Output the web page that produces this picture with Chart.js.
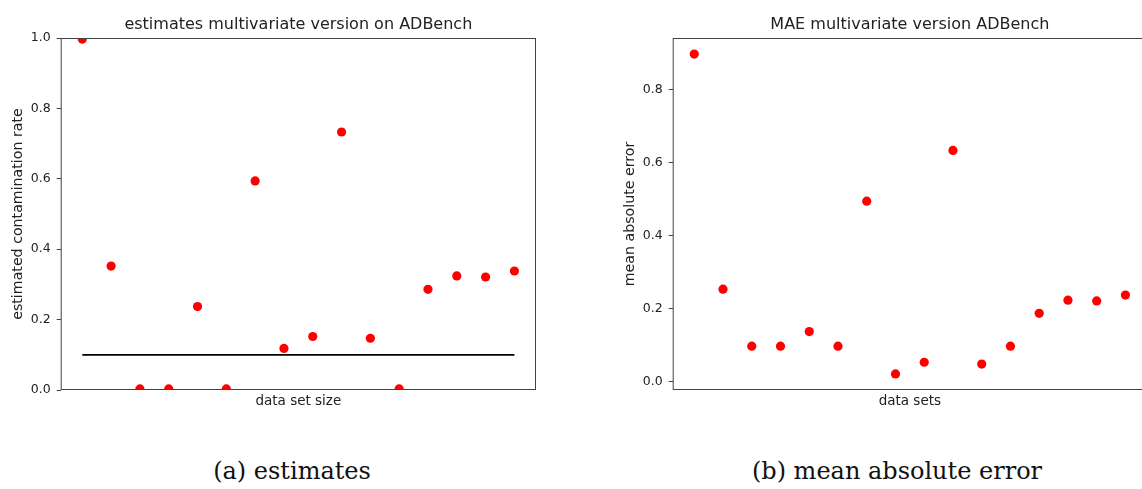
<!DOCTYPE html>
<html>
<head>
<meta charset="utf-8">
<script src="https://cdn.jsdelivr.net/npm/chart.js@4/dist/chart.umd.min.js"></script>
<style>
  html, body { margin:0; padding:0; background:#fff; width:1142px; height:489px; overflow:hidden; position:relative; }
  canvas { position:absolute; top:0; }
  .caption { position:absolute; top:457px; font-family:"DejaVu Serif", serif; font-size:24px; color:#111; transform:translateX(-50%); white-space:nowrap; }
</style>
</head>
<body>
<canvas id="est-chart" width="560" height="414" style="left:0;"></canvas>
<canvas id="mae-chart" width="535" height="414" style="left:612px;"></canvas>
<div class="caption" style="left:292px;">(a) estimates</div>
<div class="caption" style="left:897px;">(b) mean absolute error</div>

<script>
// data sets, in the order plotted (x = position index)
const dataSetIdx = [0, 1, 2, 3, 4, 5, 6, 7, 8, 9, 10, 11, 12, 13, 14, 15];
const estimates  = [0.997, 0.352, 0.003, 0.003, 0.237, 0.003, 0.594, 0.118, 0.152, 0.733, 0.147, 0.003, 0.286, 0.324, 0.321, 0.338];
const maeValues  = [0.897, 0.253, 0.097, 0.097, 0.137, 0.097, 0.494, 0.021, 0.053, 0.633, 0.048, 0.097, 0.187, 0.223, 0.221, 0.237];
const trueRate   = 0.1;
const estTicks   = [0.0, 0.2, 0.4, 0.6, 0.8, 1.0];
const maeTicks   = [0.0, 0.2, 0.4, 0.6, 0.8];

const FONT = '"DejaVu Sans", sans-serif';
const INK = '#222';

// matplotlib-like full frame + title centred on the axes
const framePlugin = {
  id: 'frame',
  afterDraw(chart, args, opts) {
    const {ctx, chartArea:a} = chart;
    ctx.save();
    ctx.strokeStyle = '#444';
    ctx.lineWidth = 1;
    ctx.strokeRect(a.left + 0.5, a.top + 0.5, a.right - a.left - 1, a.bottom - a.top - 1);
    ctx.fillStyle = INK;
    ctx.font = '16px ' + FONT;
    ctx.textAlign = 'center';
    ctx.textBaseline = 'middle';
    ctx.fillText(opts.text, (a.left + a.right) / 2, a.top - 13);
    ctx.restore();
  }
};

function pts(ys) { return dataSetIdx.map((x, i) => ({x, y: ys[i]})); }

function makeChart(id, cfg) {
  const ctx = document.getElementById(id).getContext('2d');
  return new Chart(ctx, {
    type: 'scatter',
    data: {datasets: cfg.datasets},
    plugins: [framePlugin],
    options: {
      responsive: false, animation: false, devicePixelRatio: 1,
      // right panel runs past the window edge, as in the source figure
      layout: {autoPadding: false, padding: {top: 38, right: cfg.padRight, left: 0, bottom: 0}},
      plugins: {legend: {display: false}, tooltip: {enabled: false}, frame: {text: cfg.title}},
      scales: {
        x: {
          type: 'linear', min: -0.75, max: 15.75,
          afterFit: s => { s.height = 24; },
          grid: {display: false}, border: {display: false},
          ticks: {display: false},
          title: {display: true, text: cfg.xLabel, color: INK, font: {family: FONT, size: 13.5}, padding: {top: 4, bottom: 4}}
        },
        y: {
          min: cfg.yMin, max: cfg.yMax,
          afterFit: s => { s.width = 60.7; },
          afterBuildTicks: s => { s.ticks = cfg.yTicks.map(v => ({value: v})); },
          grid: {drawOnChartArea: false, drawTicks: true, tickLength: 4, color: '#444'},
          border: {display: false},
          ticks: {color: INK, padding: 6, font: {family: FONT, size: 12.5}, callback: v => v.toFixed(1)},
          title: {display: true, text: cfg.yLabel, color: INK, font: {family: FONT, size: 14.2}, padding: {top: 10, bottom: 0}}
        }
      }
    }
  });
}

const dots = ys => ({
  data: pts(ys), clip: 0,
  backgroundColor: '#ff0000', borderWidth: 0, pointRadius: 4.6
});

makeChart('est-chart', {
  title: 'estimates multivariate version on ADBench',
  xLabel: 'data set size', yLabel: 'estimated contamination rate',
  yMin: 0, yMax: 1, yTicks: estTicks, padRight: 24,
  datasets: [
    {type: 'line', data: [{x: dataSetIdx[0], y: trueRate}, {x: dataSetIdx[dataSetIdx.length - 1], y: trueRate}],
     borderColor: '#000', borderWidth: 1.8, pointRadius: 0, fill: false},
    dots(estimates)
  ]
});

makeChart('mae-chart', {
  title: 'MAE multivariate version ADBench',
  xLabel: 'data sets', yLabel: 'mean absolute error',
  yMin: -0.023, yMax: 0.941, yTicks: maeTicks, padRight: 0,
  datasets: [dots(maeValues)]
});
</script>
</body>
</html>
